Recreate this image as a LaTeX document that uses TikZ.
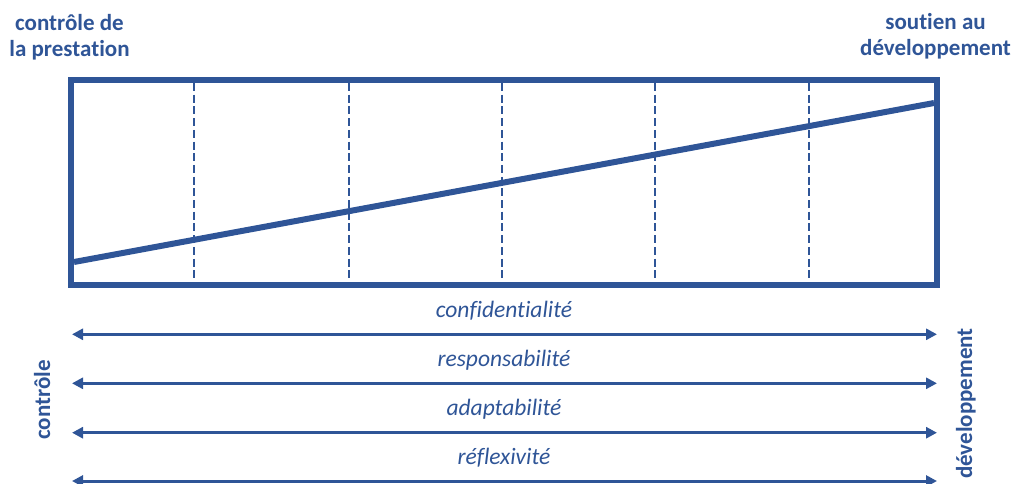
\documentclass[tikz,border=0pt]{standalone}
\usepackage{fontspec}
\setmainfont{Carlito}[Ligatures={NoCommon,NoRare,NoContextual}]
\usetikzlibrary{arrows.meta}
\definecolor{dblue}{HTML}{2F5597}
\begin{document}
\begin{tikzpicture}[x=1pt,y=-1pt,
  frame/.style={draw=dblue,line width=6pt},
  divider/.style={draw=dblue,line width=2.5pt,dash pattern=on 8pt off 3.7pt},
  trend/.style={draw=dblue,line width=6pt},
  axisarrow/.style={draw=dblue,line width=3pt,{Triangle[length=11pt,width=11pt]}-{Triangle[length=11pt,width=11pt]}},
  heading/.style={text=dblue,font=\bfseries\fontsize{23}{27}\selectfont,inner sep=0pt,anchor=base},
  axislabel/.style={text=dblue,font=\itshape\fontsize{23.5}{26}\selectfont,inner sep=0pt,anchor=base},
  sidelabel/.style={text=dblue,font=\bfseries\fontsize{23}{27}\selectfont,inner sep=0pt,rotate=90,anchor=base}]
\useasboundingbox (0,0) rectangle (1014,483);
% frame
\coordinate (tl) at (71,80);
\coordinate (br) at (937,284.5);
\draw[frame] (tl) rectangle (br);
% dashed dividers
\foreach \x [count=\i] in {194,349,502,655,809}{
  \coordinate (dt\i) at (\x,83);
  \coordinate (db\i) at (\x,281.5);
  \draw[divider] (dt\i) -- (db\i);
}
% trend line
\coordinate (ts) at (74,262);
\coordinate (te) at (934,103);
\draw[trend] (ts) -- (te);
% headings
\node[heading] (hl1) at (69.5,30) {contrôle de};
\node[heading] (hl2) at (69.5,56.5) {la prestation};
\node[heading] (hr1) at (935.5,29.5) {soutien au};
\node[heading] (hr2) at (935.5,55.5) {développement};
% arrows
\foreach \y/\t [count=\i] in {334.3/confidentialité,383.3/responsabilité,432.7/adaptabilité,481/réflexivité}{
  \coordinate (al\i) at (72,\y);
  \coordinate (ar\i) at (937,\y);
  \draw[axisarrow] (al\i) -- (ar\i);
  \node[axislabel] (lab\i) at (504,\y-17) {\t};
}
% side labels
\node[sidelabel] (sl) at (50,400) {contrôle};
\node[sidelabel] (sr) at (972,403.5) {développement};
\end{tikzpicture}
\end{document}
